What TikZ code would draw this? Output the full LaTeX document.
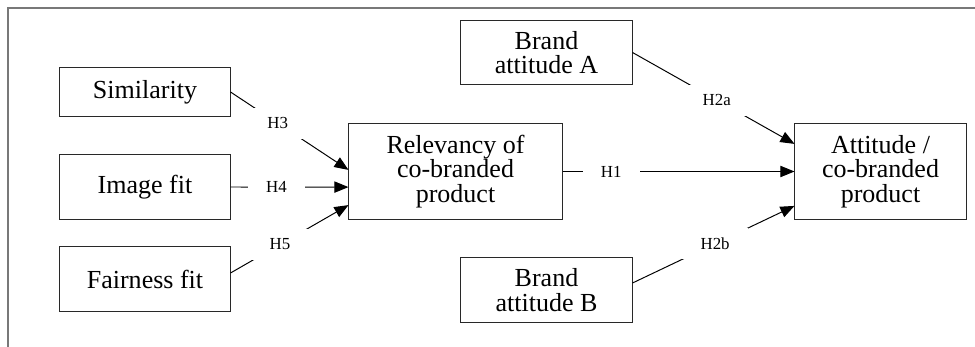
\documentclass[tikz,border=0pt]{standalone}
\usepackage{fontspec}
\setmainfont{Liberation Serif}
\usetikzlibrary{arrows.meta,positioning}
\definecolor{boxgray}{RGB}{40,40,40}
\definecolor{framegray}{RGB}{120,120,120}

\tikzset{
  construct/.style={draw=boxgray, line width=0.7pt, align=center, inner sep=2pt,
    font=\fontsize{18.5}{17.5}\selectfont},
  hyplabel/.style={fill=white, inner xsep=13pt, inner ysep=7pt,
    font=\fontsize{12}{12}\selectfont},
  hyparrow/.style={line width=0.7pt, -{Triangle[length=10pt,width=8pt]}}
}

\begin{document}
\begin{tikzpicture}[x=0.025cm, y=-0.025cm]
\useasboundingbox (0,0) rectangle (975,347);
% Frame
\draw[framegray, line width=0.8pt] (8,347) -- (8,8) -- (975,8);
% Antecedents
\node[construct, minimum width=4.25cm, minimum height=1.2cm] (sim) at (145,92) {Similarity};
\node[construct, minimum width=4.25cm, minimum height=1.6cm] (img) at (145,187) {Image fit};
\node[construct, minimum width=4.25cm, minimum height=1.6cm] (fair) at (145,279) {Fairness fit};
% Mediator and brands
\node[construct, minimum width=5.325cm, minimum height=2.375cm] (rel) at (455.5,171.5)
  {Relevancy of\\co-branded\\product};
\node[construct, minimum width=4.275cm, minimum height=1.575cm] (brA) at (546.5,52.5)
  {Brand\\attitude A};
\node[construct, minimum width=4.275cm, minimum height=1.6cm] (brB) at (546.5,290)
  {Brand\\attitude B};
% Outcome
\node[construct, minimum width=4.275cm, minimum height=2.375cm] (att) at (880.5,171.5)
  {Attitude /\\co-branded\\product};
% Hypotheses
\draw[hyparrow] (sim.east) -- node[hyplabel, pos=0.4] {H3} ([yshift=0.04cm]rel.west);
\draw[hyparrow] (img.east) -- node[hyplabel, pos=0.39] {H4} ([yshift=-0.39cm]rel.west);
\draw[hyparrow] ([yshift=0.15cm]fair.east) -- node[hyplabel, pos=0.42] {H5} ([yshift=-0.84cm]rel.west);
\draw[hyparrow] (rel.east) -- node[hyplabel, pos=0.21] {H1} (att.west);
\draw[hyparrow] (brA.east) -- node[hyplabel, pos=0.52] {H2a} ([yshift=0.69cm]att.west);
\draw[hyparrow] ([yshift=0.175cm]brB.east) -- node[hyplabel, pos=0.51] {H2b} ([yshift=-0.86cm]att.west);
\end{tikzpicture}
\end{document}
